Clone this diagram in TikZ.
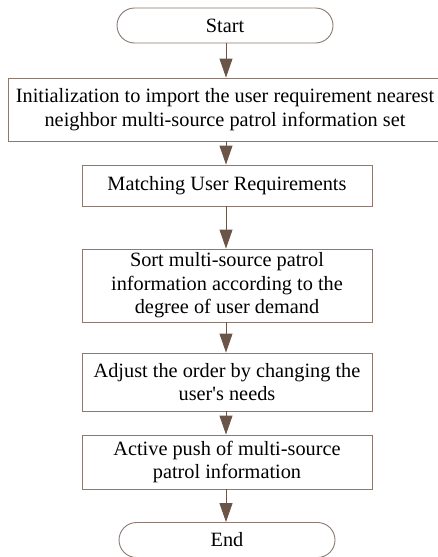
\documentclass[tikz,border=0pt]{standalone}
\usepackage{fontspec}
\setmainfont{Liberation Serif}
\usetikzlibrary{arrows.meta,shapes.misc}
\definecolor{boxline}{HTML}{8A7A72}
\definecolor{flowarrow}{HTML}{6B5549}
\begin{document}
\begin{tikzpicture}[x=1pt,y=-1pt,
  every node/.style={font=\fontsize{20.3}{23.5}\selectfont, align=center, inner sep=0pt},
  procbox/.style={draw=boxline, line width=0.9pt, rectangle, minimum width=#1},
  terminal/.style={draw=boxline, line width=0.9pt, rounded rectangle, minimum width=216pt, minimum height=35pt},
  flow/.style={draw=flowarrow, line width=0.9pt, -{Triangle[length=19pt,width=13pt]}}]
\useasboundingbox (0,0) rectangle (437,557);
\node[terminal] (start) at (225,25.5) {Start};
\node[procbox=434pt, minimum height=63pt] (init) at (225,109.5)
  {Initialization to import the user requirement nearest\\neighbor multi-source patrol information set};
\node[procbox=290pt, minimum height=41pt] (match) at (227,185.5) {Matching User Requirements};
\node[procbox=290pt, minimum height=73pt] (sort) at (227,285.5)
  {Sort multi-source patrol\\information according to the\\degree of user demand};
\node[procbox=290pt, minimum height=58pt] (adjust) at (227,382)
  {Adjust the order by changing the\\user\textquotesingle s needs};
\node[procbox=290pt, minimum height=54pt] (push) at (227,462)
  {Active push of multi-source\\patrol information};
\node[terminal] (end) at (227,540) {End};
\coordinate (ax) at (226,0);
\draw[flow] (start.south -| ax) -- (init.north -| ax);
\draw[flow] (init.south -| ax) -- (match.north -| ax);
\draw[flow] (match.south -| ax) -- (sort.north -| ax);
\draw[flow] (sort.south -| ax) -- (adjust.north -| ax);
\draw[flow] (adjust.south -| ax) -- (push.north -| ax);
\draw[flow] (push.south -| ax) -- (end.north -| ax);
\end{tikzpicture}
\end{document}
